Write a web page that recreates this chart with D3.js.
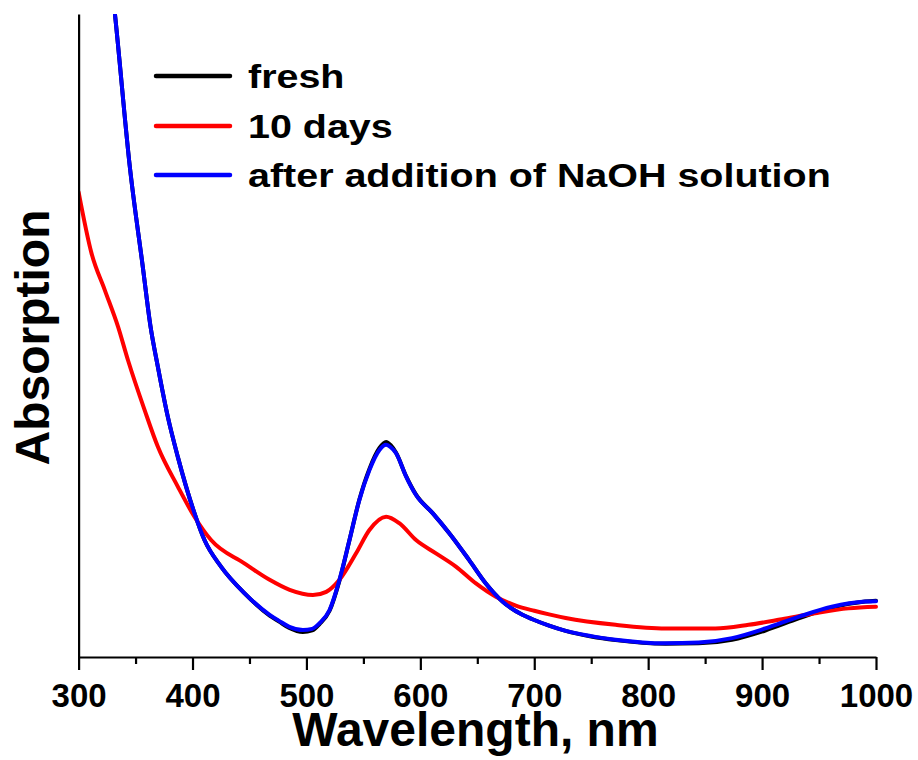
<!DOCTYPE html>
<html>
<head>
<meta charset="utf-8">
<script src="https://cdn.jsdelivr.net/npm/d3@7/dist/d3.min.js"></script>
<style>
  html, body { margin: 0; padding: 0; background: #fff; }
  svg { display: block; }
  text { font-family: "Liberation Sans", Arial, Helvetica, sans-serif; font-weight: bold; fill: #000; }
</style>
</head>
<body>
<svg id="chart" width="918" height="760"></svg>
<script>
// UV-Vis absorption spectra (arbitrary units)

const freshNm = [330, 332, 345, 356.4, 363, 369.6, 378.3, 387.1, 401.7, 410.5, 425, 445.5, 467.7, 476, 485, 496.9, 505, 511.5, 520.3, 529, 537.8, 546.5, 555.3, 564.1, 569.9, 574, 578.7, 587.5, 596.2, 610.8, 625.4, 642.9, 657.5, 672.1, 689.6, 698.4, 713, 727.6, 750, 771.4, 815.2, 844.4, 873.6, 902.8, 932, 961.2, 990.5, 1000];
const freshAbs = [1.65, 1.597, 1.219, 0.970, 0.825, 0.722, 0.598, 0.498, 0.358, 0.291, 0.225, 0.159, 0.103, 0.088, 0.072, 0.062, 0.066, 0.082, 0.115, 0.190, 0.291, 0.392, 0.468, 0.520, 0.535, 0.527, 0.508, 0.450, 0.404, 0.358, 0.308, 0.241, 0.183, 0.138, 0.105, 0.094, 0.078, 0.065, 0.051, 0.042, 0.033, 0.034, 0.043, 0.066, 0.096, 0.123, 0.138, 0.140];

const daysNm = [300, 311.3, 323, 334.6, 343.3, 357.9, 369.6, 387.1, 401.7, 416.3, 445.5, 467.7, 485.3, 505.7, 517.4, 529, 543.6, 555.3, 569.9, 581.5, 596.2, 613.7, 631.2, 648.8, 666.3, 683.8, 700, 713, 727.6, 771.4, 815.2, 859, 888.2, 917.4, 946.6, 975.8, 1000];
const daysAbs = [1.157, 1.005, 0.913, 0.822, 0.739, 0.615, 0.523, 0.424, 0.349, 0.291, 0.233, 0.192, 0.167, 0.154, 0.162, 0.192, 0.258, 0.316, 0.349, 0.333, 0.291, 0.258, 0.225, 0.183, 0.150, 0.128, 0.115, 0.106, 0.097, 0.080, 0.071, 0.071, 0.080, 0.094, 0.109, 0.121, 0.125];

const naohNm = [330, 332, 345, 356.4, 363, 369.6, 378.3, 387.1, 401.7, 410.5, 425, 445.5, 467.7, 476, 485, 496.9, 505, 511.5, 520.3, 529, 537.8, 546.5, 555.3, 564.1, 569.9, 574, 578.7, 587.5, 596.2, 610.8, 625.4, 642.9, 657.5, 672.1, 689.6, 698.4, 713, 727.6, 750, 771.4, 815.2, 844.4, 873.6, 902.8, 932, 961.2, 990.5, 1000];
const naohAbs = [1.65, 1.597, 1.219, 0.970, 0.825, 0.722, 0.598, 0.498, 0.358, 0.291, 0.225, 0.159, 0.105, 0.090, 0.075, 0.067, 0.070, 0.084, 0.117, 0.192, 0.291, 0.391, 0.465, 0.515, 0.528, 0.522, 0.507, 0.449, 0.403, 0.358, 0.308, 0.241, 0.183, 0.138, 0.105, 0.094, 0.078, 0.065, 0.052, 0.043, 0.034, 0.036, 0.047, 0.071, 0.100, 0.125, 0.138, 0.139];

const seriesNames = ["fresh", "10 days", "after addition of NaOH solution"];
const seriesColors = ["#000000", "#ff0000", "#0000ff"];
const xTickValues = [300, 400, 500, 600, 700, 800, 900, 1000];
const xMinorValues = [350, 450, 550, 650, 750, 850, 950];

const series = [
  { name: seriesNames[0], color: seriesColors[0], points: freshNm.map((x, i) => [x, freshAbs[i]]) },
  { name: seriesNames[1], color: seriesColors[1], points: daysNm.map((x, i) => [x, daysAbs[i]]) },
  { name: seriesNames[2], color: seriesColors[2], points: naohNm.map((x, i) => [x, naohAbs[i]]) }
];

const svg = d3.select("#chart");
const plot = { left: 78.6, right: 876, top: 14, bottom: 657 };

const x = d3.scaleLinear().domain([300, 1000]).range([plot.left, plot.right]);
const y = d3.scaleLinear().domain([0, 1.6]).range([plot.bottom, plot.top]);

svg.append("defs").append("clipPath").attr("id", "plotClip")
  .append("rect")
  .attr("x", plot.left).attr("y", plot.top)
  .attr("width", plot.right - plot.left + 6).attr("height", plot.bottom - plot.top);

const line = d3.line()
  .x(d => x(d[0]))
  .y(d => y(d[1]))
  .curve(d3.curveMonotoneX);

const curves = svg.append("g").attr("clip-path", "url(#plotClip)");
curves.selectAll("path")
  .data(series)
  .join("path")
  .attr("d", d => line(d.points))
  .attr("fill", "none")
  .attr("stroke", d => d.color)
  .attr("stroke-width", 4)
  .attr("stroke-linejoin", "round")
  .attr("stroke-linecap", "round");

// Bottom axis with major and minor ticks
const xAxis = svg.append("g")
  .attr("transform", `translate(0,${plot.bottom})`)
  .call(d3.axisBottom(x).tickValues(xTickValues).tickSize(13).tickSizeOuter(0).tickFormat(d3.format("d")));
xAxis.select(".domain").attr("stroke", "#000").attr("stroke-width", 2.2);
xAxis.selectAll(".tick line").attr("stroke", "#000").attr("stroke-width", 2.2);
xAxis.selectAll(".tick text")
  .attr("y", 50).attr("dy", 0)
  .style("font-size", "33px")
  .style("font-family", "'Liberation Sans', Arial, sans-serif")
  .style("font-weight", "bold")
  .attr("fill", "#000");

const xMinor = svg.append("g")
  .attr("transform", `translate(0,${plot.bottom})`)
  .call(d3.axisBottom(x).tickValues(xMinorValues).tickSize(7).tickFormat(""));
xMinor.select(".domain").remove();
xMinor.selectAll(".tick line").attr("stroke", "#000").attr("stroke-width", 2.2);

// Left axis line without ticks
const yAxis = svg.append("g")
  .attr("transform", `translate(${plot.left},0)`)
  .call(d3.axisLeft(y).tickValues([]).tickSizeOuter(0));
yAxis.select(".domain").attr("stroke", "#000").attr("stroke-width", 2.2);

// Axis titles
svg.append("text")
  .attr("x", 475.5).attr("y", 746)
  .attr("text-anchor", "middle")
  .style("font-size", "48px")
  .text("Wavelength, nm");

svg.append("text")
  .attr("transform", "translate(49,337.5) rotate(-90)")
  .attr("text-anchor", "middle")
  .style("font-size", "48px")
  .text("Absorption");

// Legend
const legendY = [76, 126, 175];
const legend = svg.append("g");
series.forEach((s, i) => {
  legend.append("line")
    .attr("x1", 156).attr("x2", 230)
    .attr("y1", legendY[i]).attr("y2", legendY[i])
    .attr("stroke", s.color).attr("stroke-width", 4.5)
    .attr("stroke-linecap", "round");
  legend.append("text")
    .attr("transform", `translate(248,${legendY[i] + 12}) scale(1.195,1)`)
    .style("font-size", "33px")
    .text(s.name);
});
</script>
</body>
</html>
